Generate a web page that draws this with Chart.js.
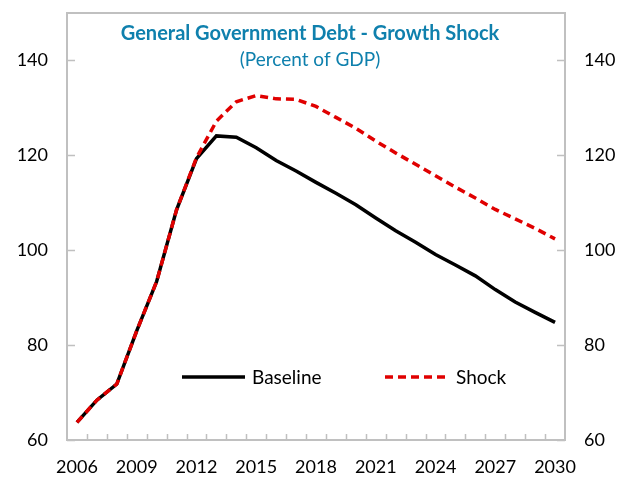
<!DOCTYPE html>
<html>
<head>
<meta charset="utf-8">
<script src="https://cdn.jsdelivr.net/npm/chart.js@4/dist/chart.umd.min.js"></script>
<style>
  html, body { margin: 0; padding: 0; background: #fff; }
  #wrap { width: 618px; height: 479px; }
</style>
</head>
<body>
<div id="wrap"><canvas id="debtChart" width="618" height="479"></canvas></div>
<script>
// years on the x axis
const years = [];
for (let y = 2006; y <= 2030; y++) years.push(String(y));

// debt in percent of GDP
const baseline = [63.7, 68.4, 71.8, 83.0, 93.4, 108.5, 119.3, 124.1, 123.8, 121.6, 118.9, 116.7, 114.3, 112.0, 109.6, 106.8, 104.1, 101.7, 99.1, 96.9, 94.6, 91.7, 89.1, 86.9, 84.8];
const shock    = [63.7, 68.4, 71.8, 83.0, 93.4, 108.5, 119.5, 127.2, 131.3, 132.6, 131.9, 131.8, 130.3, 128.0, 125.7, 123.0, 120.5, 118.1, 115.7, 113.3, 111.0, 108.6, 106.6, 104.6, 102.4];

const yTicks = [60, 80, 100, 120, 140];

const titleText = 'General Government Debt - Growth Shock';
const subtitleText = '(Percent of GDP)';
const blue = '#0f80ad';
const axisGrey = '#c0c0c0';
const fontName = 'Lato, "Open Sans", sans-serif';

// box, inner tick marks, title and legend
const decor = {
  id: 'decor',
  beforeDatasetsDraw(chart) {
    const { ctx, chartArea: a, scales } = chart;
    ctx.save();
    ctx.strokeStyle = axisGrey;
    ctx.lineWidth = 2;
    ctx.strokeRect(a.left, a.top, a.right - a.left, a.bottom - a.top);

    ctx.lineWidth = 1.5;
    ctx.beginPath();
    yTicks.forEach(v => {
      const py = Math.round(scales.y.getPixelForValue(v)) + 0.5;
      ctx.moveTo(a.left, py); ctx.lineTo(a.left + 8, py);
      ctx.moveTo(a.right, py); ctx.lineTo(a.right - 8, py);
    });
    // x tick marks between categories
    const step = (a.right - a.left) / years.length;
    for (let i = 1; i < years.length; i++) {
      const px = Math.round(a.left + i * step) + 0.5;
      ctx.moveTo(px, a.bottom); ctx.lineTo(px, a.bottom - 6);
    }
    ctx.stroke();

    ctx.textAlign = 'center';
    ctx.textBaseline = 'middle';
    ctx.fillStyle = blue;
    const cx = (a.left + a.right) / 2 - 6;
    ctx.font = 'bold 20px ' + fontName;
    ctx.fillText(titleText, cx, 34);
    ctx.font = '19px ' + fontName;
    ctx.fillText(subtitleText, cx, 60);
    ctx.restore();
  },
  afterDatasetsDraw(chart) {
    const { ctx } = chart;
    ctx.save();
    ctx.lineWidth = 3.5;
    ctx.strokeStyle = '#000';
    ctx.beginPath(); ctx.moveTo(182, 377); ctx.lineTo(245, 377); ctx.stroke();
    ctx.strokeStyle = '#e00000';
    ctx.setLineDash([8, 5]);
    ctx.beginPath(); ctx.moveTo(385, 377); ctx.lineTo(449, 377); ctx.stroke();
    ctx.setLineDash([]);
    ctx.fillStyle = '#000';
    ctx.font = '19px ' + fontName;
    ctx.textBaseline = 'middle';
    ctx.fillText('Baseline', 252, 378);
    ctx.fillText('Shock', 456, 378);
    ctx.restore();
  }
};

function fixY(width) {
  return function (scale) {
    scale.width = width;
    scale.paddingTop = 0;
    scale.paddingBottom = 0;
  };
}

const ctx = document.getElementById('debtChart').getContext('2d');
const debtChart = new Chart(ctx, {
  type: 'line',
  data: {
    labels: years,
    datasets: [
      {
        label: 'Baseline',
        data: baseline,
        borderColor: '#000',
        borderWidth: 3.5,
        pointRadius: 0,
        tension: 0,
        order: 2
      },
      {
        label: 'Shock',
        data: shock,
        borderColor: '#e00000',
        borderWidth: 3.5,
        borderDash: [8, 5],
        pointRadius: 0,
        tension: 0,
        order: 1
      }
    ]
  },
  options: {
    responsive: false,
    animation: false,
    layout: { padding: { top: 13, left: 0, right: 0, bottom: 0 } },
    plugins: {
      legend: { display: false },
      tooltip: { enabled: false }
    },
    scales: {
      x: {
        offset: true,
        grid: { display: false, offset: true, drawTicks: false },
        border: { display: false },
        ticks: {
          autoSkip: false,
          maxRotation: 0,
          padding: 16,
          color: '#000',
          font: { family: fontName, size: 18 },
          callback: (v, i) => (i % 3 === 0 ? years[i] : '')
        },
        afterFit(scale) {
          scale.height = 39;
          scale.paddingLeft = 0;
          scale.paddingRight = 0;
        }
      },
      y: {
        position: 'left',
        min: 60,
        max: 150,
        grid: { display: false, drawTicks: false },
        border: { display: false },
        afterBuildTicks(scale) { scale.ticks = yTicks.map(v => ({ value: v })); },
        ticks: { padding: 19, color: '#000', font: { family: fontName, size: 18 } },
        afterFit: fixY(67)
      },
      y2: {
        position: 'right',
        min: 60,
        max: 150,
        grid: { display: false, drawTicks: false },
        border: { display: false },
        afterBuildTicks(scale) { scale.ticks = yTicks.map(v => ({ value: v })); },
        ticks: { padding: 19, color: '#000', font: { family: fontName, size: 18 } },
        afterFit: fixY(53)
      }
    }
  },
  plugins: [decor]
});
</script>
</body>
</html>
